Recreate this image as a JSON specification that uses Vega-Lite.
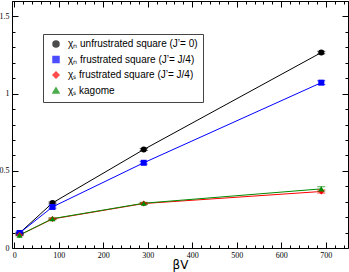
{
  "$schema": "https://vega.github.io/schema/vega-lite/v6.json",
  "width": 336,
  "height": 247,
  "autosize": "none",
  "padding": {"left": 12, "top": 1, "right": 1, "bottom": 24},
  "background": "white",
  "config": {"view": {"stroke": null}, "font": "Liberation Serif"},
  "data": {"values": [
    {"series": "χₙ unfrustrated square (J’= 0)", "bv": 12, "chi": 0.097, "err": 0.005},
    {"series": "χₙ unfrustrated square (J’= 0)", "bv": 86, "chi": 0.292, "err": 0.006},
    {"series": "χₙ unfrustrated square (J’= 0)", "bv": 291, "chi": 0.638, "err": 0.006},
    {"series": "χₙ unfrustrated square (J’= 0)", "bv": 690, "chi": 1.266, "err": 0.008},
    {"series": "χₙ frustrated square (J’= J/4)", "bv": 12, "chi": 0.097, "err": 0.005},
    {"series": "χₙ frustrated square (J’= J/4)", "bv": 86, "chi": 0.266, "err": 0.008},
    {"series": "χₙ frustrated square (J’= J/4)", "bv": 291, "chi": 0.552, "err": 0.008},
    {"series": "χₙ frustrated square (J’= J/4)", "bv": 690, "chi": 1.071, "err": 0.012},
    {"series": "χₛ frustrated square (J’= J/4)", "bv": 12, "chi": 0.084, "err": 0.004},
    {"series": "χₛ frustrated square (J’= J/4)", "bv": 86, "chi": 0.188, "err": 0.005},
    {"series": "χₛ frustrated square (J’= J/4)", "bv": 291, "chi": 0.288, "err": 0.006},
    {"series": "χₛ frustrated square (J’= J/4)", "bv": 690, "chi": 0.366, "err": 0.01},
    {"series": "χₛ kagome", "bv": 12, "chi": 0.084, "err": 0.004},
    {"series": "χₛ kagome", "bv": 86, "chi": 0.19, "err": 0.005},
    {"series": "χₛ kagome", "bv": 291, "chi": 0.29, "err": 0.006},
    {"series": "χₛ kagome", "bv": 690, "chi": 0.383, "err": 0.014}
  ]},
  "transform": [
    {"calculate": "datum.chi - datum.err", "as": "lo"},
    {"calculate": "datum.chi + datum.err", "as": "hi"}
  ],
  "resolve": {"axis": {"x": "independent", "y": "independent"}},
  "layer": [
    {
      "mark": {"type": "line", "strokeWidth": 1},
      "encoding": {
        "x": {"field": "bv", "type": "quantitative", "scale": {"domain": [-5, 750], "nice": false, "zero": false},
          "axis": {"orient": "bottom", "values": [0, 100, 200, 300, 400, 500, 600, 700], "tickSize": -6, "tickColor": "black", "domainColor": "black", "labelPadding": 9, "labelFontSize": 8, "labelColor": "black", "labelFont": "Liberation Serif", "grid": false, "title": "βV", "titleFont": "DejaVu Sans", "titleFontWeight": "normal", "titleFontSize": 12, "titleColor": "black", "titlePadding": 0}},
        "y": {"field": "chi", "type": "quantitative", "scale": {"domain": [0, 1.6], "nice": false},
          "axis": {"orient": "left", "values": [0, 0.5, 1, 1.5], "format": "~g", "tickSize": -6, "tickColor": "black", "domainColor": "black", "labelPadding": 9, "labelFontSize": 8, "labelColor": "black", "labelFont": "Liberation Serif", "grid": false, "title": null}},
        "color": {"field": "series", "type": "nominal",
          "sort": ["χₙ unfrustrated square (J’= 0)", "χₙ frustrated square (J’= J/4)", "χₛ frustrated square (J’= J/4)", "χₛ kagome"],
          "scale": {"domain": ["χₙ unfrustrated square (J’= 0)", "χₙ frustrated square (J’= J/4)", "χₛ frustrated square (J’= J/4)", "χₛ kagome"], "range": ["black", "#0000ff", "#ff0000", "#008a00"]},
          "legend": {"orient": "none", "legendX": 31, "legendY": 33, "title": null, "fillColor": "white", "strokeColor": "#444", "padding": 5, "labelFont": "Liberation Sans", "labelFontSize": 10, "labelColor": "black", "symbolSize": 36, "symbolOpacity": 1, "rowPadding": 3.5, "labelOffset": 7, "symbolOffset": 3}},
        "order": {"field": "bv"},
        "detail": {"field": "series"}
      }
    },
    {
      "mark": {"type": "errorbar", "ticks": {"size": 8}},
      "encoding": {
        "x": {"field": "bv", "type": "quantitative", "axis": null},
        "y": {"field": "lo", "type": "quantitative", "axis": null},
        "y2": {"field": "hi"},
        "color": {"field": "series", "type": "nominal"}
      }
    },
    {
      "mark": {"type": "point", "filled": true, "opacity": 1, "size": 36},
      "encoding": {
        "x": {"field": "bv", "type": "quantitative", "axis": null},
        "y": {"field": "chi", "type": "quantitative", "axis": null},
        "color": {"field": "series", "type": "nominal"},
        "shape": {"field": "series", "type": "nominal",
          "scale": {"domain": ["χₙ unfrustrated square (J’= 0)", "χₙ frustrated square (J’= J/4)", "χₛ frustrated square (J’= J/4)", "χₛ kagome"], "range": ["circle", "square", "diamond", "triangle-up"]},
          "legend": {"orient": "none", "legendX": 31, "legendY": 33, "title": null, "fillColor": "white", "strokeColor": "#444", "padding": 5, "labelFont": "Liberation Sans", "labelFontSize": 10, "labelColor": "black", "symbolSize": 36, "symbolOpacity": 1, "rowPadding": 3.5, "labelOffset": 7, "symbolOffset": 3}}
      }
    },
    {
      "mark": {"type": "point", "opacity": 0},
      "encoding": {
        "x": {"field": "bv", "type": "quantitative",
          "axis": {"orient": "bottom", "values": [20,40,60,80,120,140,160,180,220,240,260,280,320,340,360,380,420,440,460,480,520,540,560,580,620,640,660,680,720,740], "tickSize": -3, "tickColor": "black", "domain": false, "labels": false, "grid": false, "title": null}},
        "y": {"field": "chi", "type": "quantitative",
          "axis": {"orient": "left", "values": [0.1,0.2,0.3,0.4,0.6,0.7,0.8,0.9,1.1,1.2,1.3,1.4,1.6], "tickSize": -3, "tickColor": "black", "domain": false, "labels": false, "grid": false, "title": null}}
      }
    },
    {
      "mark": {"type": "point", "opacity": 0},
      "encoding": {
        "x": {"field": "bv", "type": "quantitative",
          "axis": {"orient": "top", "values": [0, 100, 200, 300, 400, 500, 600, 700], "tickSize": -6, "tickColor": "black", "domainColor": "black", "labels": false, "grid": false, "title": null}},
        "y": {"field": "chi", "type": "quantitative",
          "axis": {"orient": "right", "values": [0, 0.5, 1, 1.5], "tickSize": -6, "tickColor": "black", "domainColor": "black", "labels": false, "grid": false, "title": null}}
      }
    },
    {
      "mark": {"type": "point", "opacity": 0},
      "encoding": {
        "x": {"field": "bv", "type": "quantitative",
          "axis": {"orient": "top", "values": [20,40,60,80,120,140,160,180,220,240,260,280,320,340,360,380,420,440,460,480,520,540,560,580,620,640,660,680,720,740], "tickSize": -3, "tickColor": "black", "domain": false, "labels": false, "grid": false, "title": null}},
        "y": {"field": "chi", "type": "quantitative",
          "axis": {"orient": "right", "values": [0.1,0.2,0.3,0.4,0.6,0.7,0.8,0.9,1.1,1.2,1.3,1.4,1.6], "tickSize": -3, "tickColor": "black", "domain": false, "labels": false, "grid": false, "title": null}}
      }
    }
  ]
}
